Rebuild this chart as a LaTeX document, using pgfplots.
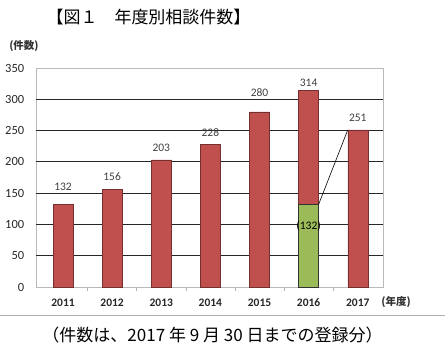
\documentclass[border=0pt]{standalone}
\usepackage{pgfplots}
\pgfplotsset{compat=1.18}
\usepackage{fontspec}
\setmainfont{Carlito}
\newfontfamily\cjk{Noto Sans CJK JP}
\definecolor{barred}{HTML}{C0504D}
\definecolor{bargreen}{HTML}{9BBB59}
\begin{document}
\begin{tikzpicture}
\path[use as bounding box] (0pt,0pt) rectangle (445pt,356pt);
\node[font=\cjk\fontsize{17}{17}\selectfont] at (148.5pt,339pt) {【図１　年度別相談件数】};
\node[font=\cjk\bfseries\fontsize{10.5}{11}\selectfont, text=black!80] at (24pt,310pt) {(件数)};
\node[font=\cjk\bfseries\fontsize{10.5}{11}\selectfont, text=black!80] at (396pt,54pt) {(年度)};
\draw[gray!60, line width=0.8pt] (0pt,41pt) -- (445pt,41pt);
\node[font=\cjk\fontsize{17}{17}\selectfont] at (212.5pt,21pt) {（件数は、2017 年 9 月 30 日までの登録分）};
\begin{axis}[
  at={(36pt,69pt)}, anchor=south west,
  scale only axis, width=347.3pt, height=219pt,
  xmin=-0.55, xmax=6.52, ymin=0, ymax=350,
  axis line style={gray!55, line width=0.6pt},
  xtick={0,...,6},
  xticklabels={2011,2012,2013,2014,2015,2016,2017},
  minor xtick={0.5,1.5,...,5.5},
  major x tick style={draw=none},
  minor x tick style={gray!60, line width=0.6pt},
  minor tick length=4pt,
  xtick pos=bottom, tick align=outside,
  ytick={0,50,...,350},
  ytick pos=left,
  major y tick style={draw=none},
  extra y ticks={50,100,...,300},
  extra y tick labels={},
  extra y tick style={grid=major, major grid style={black!85, line width=0.9pt}, major tick length=0pt},
  /pgf/number format/assume math mode=true,
  yticklabel style={font=\fontsize{12.5}{12.5}\selectfont, text=black!85, xshift=-4pt},
  xticklabel style={font=\bfseries\fontsize{11.5}{11.5}\selectfont, text=black!85, yshift=-4pt},
  clip=false,
]
\addplot[ybar, bar width=20pt, bar shift=0pt, fill=barred, draw=barred!60!black, line width=0.5pt]
  coordinates {(0,132) (1,156) (2,203) (3,228) (4,280) (5,314) (6,251)};
\addplot[ybar, bar width=20pt, bar shift=0pt, fill=bargreen, draw=black!80, line width=0.7pt]
  coordinates {(5,132)};
\addplot[black, line width=0.6pt] coordinates {(5.2036,132) (5.7964,251)};
\addplot[only marks, mark=none, nodes near coords, point meta=explicit symbolic,
  nodes near coords align=center,
  every node near coord/.append style={font=\fontsize{11.5}{11.5}\selectfont, text=black!75, inner sep=0pt}]
  coordinates {(0,160)[132] (1,176)[156] (2,222)[203] (3,246)[228] (4,310)[280] (5,326)[314] (6,270)[251]};
\addplot[only marks, mark=none, nodes near coords, point meta=explicit symbolic,
  nodes near coords align=center,
  every node near coord/.append style={font=\fontsize{11.5}{11.5}\selectfont, text=black, inner sep=0pt}]
  coordinates {(5,97.5)[{(132)}]};
\end{axis}
\end{tikzpicture}
\end{document}
